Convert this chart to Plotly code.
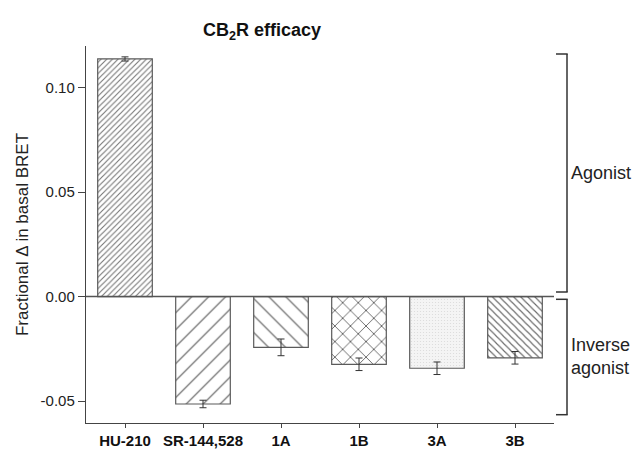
import plotly.graph_objects as go

categories = ["HU-210", "SR-144,528", "1A", "1B", "3A", "3B"]
values = [0.1137, -0.0514, -0.0243, -0.0324, -0.0343, -0.0293]
errors = [0.0010, 0.0018, 0.0040, 0.0030, 0.0030, 0.0030]

y_ticks = [-0.05, 0.00, 0.05, 0.10]
y_tick_text = ["-0.05", "0.00", "0.05", "0.10"]

# fill styles (hatch shape, tile size, solidity, line colour, background)
styles = [
    ("/", 4, 0.28, "#777777", "white"),
    ("/", 12, 0.09, "#555555", "white"),
    ("\\", 12, 0.09, "#555555", "white"),
    ("x", 11, 0.14, "#4a4a4a", "white"),
    (".", 3, 0.12, "#dadada", "#f4f4f4"),
    ("\\", 5, 0.22, "#666666", "white"),
]

fig = go.Figure()
for cat, val, err, (shp, sz, sol, fg, bg) in zip(categories, values, errors, styles):
    fig.add_trace(go.Bar(
        x=[cat], y=[val], width=0.7,
        marker=dict(
            color=bg,
            line=dict(color="#5a5a5a", width=1.2),
            pattern=dict(shape=shp, size=sz, solidity=sol, fgcolor=fg,
                         fgopacity=1, fillmode="overlay"),
        ),
        error_y=dict(type="data", array=[err], visible=True, color="#333",
                     thickness=1, width=3.5),
        showlegend=False,
        hoverinfo="skip",
    ))

L, R, T, B = 86, 635 - 554, 46, 449 - 423

fig.update_layout(
    width=635, height=449,
    margin=dict(l=L, r=R, t=T, b=B),
    paper_bgcolor="white", plot_bgcolor="white",
    barmode="overlay",
    font=dict(family="Liberation Sans, Arial, sans-serif", color="#222"),
    title=dict(text="<b>CB<sub>2</sub>R efficacy</b>", x=262 / 635, xanchor="center",
               y=1 - 30 / 449, yanchor="middle", font=dict(size=18, color="#111")),
    xaxis=dict(range=[-0.5, 5.5], showline=True, linecolor="#444", linewidth=1.4,
               ticks="outside", ticklen=4, tickcolor="#444", tickwidth=1.4,
               tickfont=dict(size=15, color="#111"),
               showgrid=False, zeroline=False, fixedrange=True, automargin=False,
               tickprefix="<b>", ticksuffix="</b>"),
    yaxis=dict(range=[-0.0605, 0.1199], showline=True, linecolor="#444", linewidth=1.4,
               ticks="outside", ticklen=7, tickcolor="#444", tickwidth=1.4,
               tickvals=y_ticks, ticktext=y_tick_text,
               tickfont=dict(size=15, color="#222"),
               showgrid=False, zeroline=False, automargin=False, fixedrange=True,
               title=dict(text="Fractional \u0394 in basal BRET", font=dict(size=17, color="#222"),
                          standoff=7)),
)

def xf(px):
    return (px - L) / (635 - L - R)

def yf(py):
    return (449 - B - py) / (449 - T - B)

# zero baseline across the plot
fig.add_shape(type="line", xref="paper", yref="y", x0=0, x1=1, y0=0, y1=0,
              line=dict(color="#555", width=1.6), layer="above")

line = dict(color="#333", width=1.5)
brackets = [(54, 292), (299.3, 414.7)]
for top, bot in brackets:
    fig.add_shape(type="line", xref="paper", yref="paper", x0=xf(567), x1=xf(567),
                  y0=yf(top), y1=yf(bot), line=line)
    fig.add_shape(type="line", xref="paper", yref="paper", x0=xf(556), x1=xf(567.7),
                  y0=yf(top), y1=yf(top), line=line)
    fig.add_shape(type="line", xref="paper", yref="paper", x0=xf(556), x1=xf(567.7),
                  y0=yf(bot), y1=yf(bot), line=line)

fig.add_annotation(text="Agonist", xref="paper", yref="paper", x=xf(569), y=yf(173),
                   xanchor="left", yanchor="middle", showarrow=False,
                   font=dict(size=18, color="#222"), align="left")
fig.add_annotation(text="Inverse<br>agonist", xref="paper", yref="paper", x=xf(569), y=yf(356),
                   xanchor="left", yanchor="middle", showarrow=False,
                   font=dict(size=18, color="#222"), align="left")

fig.write_html("out.html", config={"displayModeBar": False},
               post_script="document.body.style.margin='0';document.body.style.overflow='hidden';")
